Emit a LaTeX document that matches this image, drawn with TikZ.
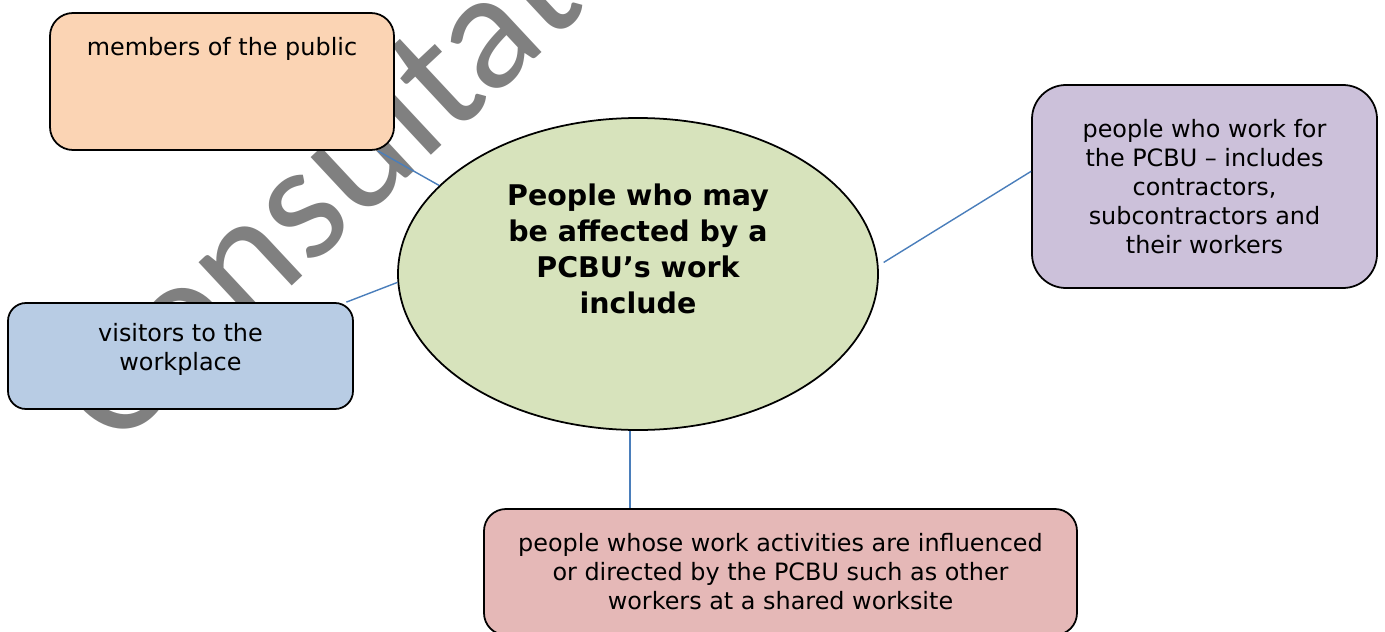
\documentclass[tikz,border=0pt]{standalone}
\usepackage{fontspec}
\setmainfont{DejaVu Sans}
\newfontfamily\markfont{Carlito}
\usetikzlibrary{shapes.geometric}
\definecolor{pubfill}{RGB}{251,212,180}
\definecolor{hubfill}{RGB}{215,227,188}
\definecolor{workfill}{RGB}{204,193,218}
\definecolor{visfill}{RGB}{184,204,228}
\definecolor{infl}{RGB}{229,184,183}
\definecolor{linkblue}{RGB}{74,126,187}
\definecolor{markgray}{RGB}{128,128,128}
\begin{document}
\begin{tikzpicture}[
    box/.style={draw=black,line width=1pt,rounded corners=#1,align=center,inner sep=0pt,
        font=\fontsize{13.6}{16.5}\selectfont},
    link/.style={draw=linkblue,line width=.8pt}]
\useasboundingbox (0,0) rectangle (27.7,-12.64);
\clip (0,0) rectangle (27.7,-12.64);
% watermark behind everything
\node[rotate=43,anchor=base west,inner sep=0pt,text=markgray,
    font=\markfont\fontsize{96}{100}\selectfont] (mark) at (2.28,-9.03) {Consultation};
\node[box=.46cm,fill=pubfill,minimum width=6.88cm,minimum height=2.74cm,
    text height=.36cm,text depth=1.42cm] (pub) at (4.44,-1.63) {members of the public};
\node[box=.36cm,fill=visfill,minimum width=6.9cm,minimum height=2.12cm] (vis) at (3.61,-7.12)
    {visitors to the\\workplace\\[-6.3pt]};
\node[box=.68cm,fill=workfill,minimum width=6.9cm,minimum height=4.06cm] (work) at (24.09,-3.73)
    {people who work for\\the PCBU -- includes\\contractors,\\subcontractors and\\their workers};
\node[box=.44cm,fill=infl,minimum width=11.86cm,minimum height=2.52cm] (dir) at (15.61,-11.44)
    {people whose work activities are influenced\\or directed by the PCBU such as other\\workers at a shared worksite};
\node[ellipse,draw=black,line width=1pt,fill=hubfill,minimum width=9.6cm,minimum height=6.24cm,
    inner sep=0pt] (hub) at (12.76,-5.48) {};
\node[align=center,font=\bfseries\fontsize{16.2}{20.5}\selectfont] (title) at ([yshift=.5cm]hub.center)
    {People who may\\be affected by a\\PCBU’s work\\include};
\draw[link] (pub.-24.4)--(hub.156.4);
\draw[link] (vis.18)--(hub.182);
\draw[link] (hub.267)--(hub.267 |- dir.north);
\draw[link,shorten <=.12cm] (hub.2)--(work.175);
\end{tikzpicture}
\end{document}
